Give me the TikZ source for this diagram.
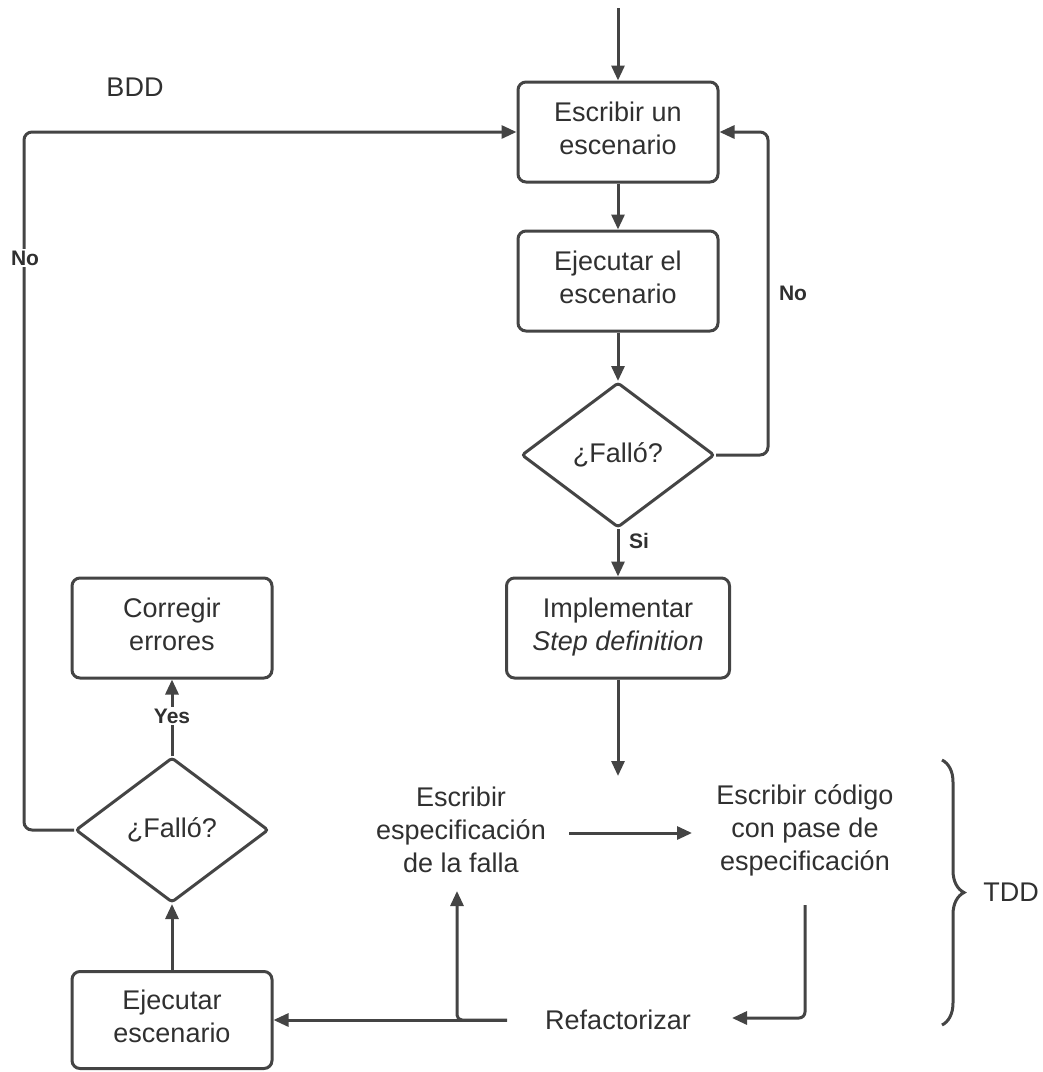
\documentclass[tikz,border=0pt]{standalone}
\usepackage{fontspec}
\setmainfont{Liberation Sans}
\usetikzlibrary{arrows.meta,shapes.geometric,decorations.pathreplacing,calc}
\definecolor{ln}{HTML}{444444}
\definecolor{tx}{HTML}{303030}
\newcommand\boxdn{\rule[-8pt]{0pt}{8pt}}
\begin{document}
\begin{tikzpicture}[x=1pt,y=-1pt,
  every node/.style={text=tx,font=\fontsize{27}{33}\selectfont},
  box/.style={draw=ln,line width=3pt,rounded corners=8pt,minimum width=200pt,minimum height=100pt,align=center,inner sep=2pt},
  dia/.style={draw=ln,line width=3pt,diamond,minimum width=193pt,minimum height=145pt,inner sep=1pt,rounded corners=3pt},
  plain/.style={align=center,inner sep=1pt},
  lab/.style={font=\fontsize{21}{23}\selectfont\bfseries,inner sep=2pt},
  arr/.style={draw=ln,line width=3pt,-{Triangle[length=15pt,width=13pt]}},
  ln/.style={draw=ln,line width=3pt}]
\useasboundingbox (0,0) rectangle (1043,1072);
% BDD nodes
\node[box] (b1) at (618,132) {Escribir un\\escenario\boxdn};
\node[box] (b2) at (618,281) {Ejecutar el\\escenario\boxdn};
\node[dia] (d1) at (618,455) {¿Falló?};
\node[box,minimum width=223pt] (b3) at (618,628) {Implementar\\\textit{Step definition}\boxdn};
\node[box] (cor) at (172,628) {Corregir\\errores\boxdn};
\node[dia] (d2) at (172,830) {¿Falló?};
\node[box,minimum height=97pt] (ej) at (172,1020) {Ejecutar\\escenario\boxdn};
% TDD texts
\node[plain] (t1) at (461,830) {Escribir\\especificación\\de la falla};
\node[plain] (t2) at (805,830) {Escribir código\\con pase de\\especificación};
\node[plain] (rf) at (618,1020) {Refactorizar};
\node[plain] (bdd) at (135,87) {BDD};
\node[plain] (tdd) at (1011,892) {TDD};
% coordinates
\coordinate (start) at (618,8);
\coordinate (tddin) at (618,776);
\coordinate (rc) at (768,132);
\coordinate (lc) at (24,132);
\coordinate (up) at (457,891);
\coordinate (hl) at (569,833);
\coordinate (hr) at (692,833);
\coordinate (c2s) at (805,905);
\coordinate (rfe) at (732,1018);
\coordinate (rfw) at (507,1020);
% connectors
\draw[arr] (start) -- (b1);
\draw[arr] (b1) -- (b2);
\draw[arr] (b2) -- (d1);
\draw[arr] (d1) -- (b3);
\draw[arr,rounded corners=8pt] (d1.east) -| (rc) -- (b1.east);
\draw[arr] (b3) -- (tddin);
\draw[arr] (hl) -- (hr);
\draw[arr,rounded corners=6pt] (c2s) |- (rfe);
\draw[arr] (rfw) -- (ej.east);
\draw[arr,rounded corners=5pt] (rfw) -| (up);
\draw[arr] (ej) -- (d2);
\draw[arr] (d2) -- (cor);
\draw[arr,rounded corners=8pt] (d2.west) -| (lc) -- (b1.west);
% labels
\node[lab] (nol) at (25,258) [fill=white] {No};
\node[lab] (nor) at (793,293) {No};
\node[lab] (si) at (639,541) {Si};
\node[lab,fill=white] (yes) at (172,716) {Yes};
% brace
\draw[ln,decorate,decoration={brace,amplitude=22pt}] (942,760) -- (942,1025);
\end{tikzpicture}
\end{document}
